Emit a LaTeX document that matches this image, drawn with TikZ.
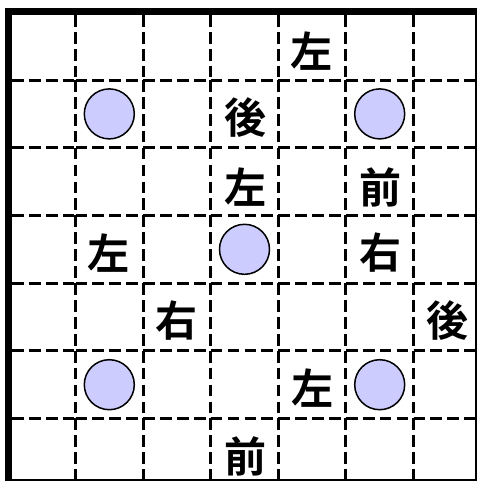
\documentclass[tikz,border=0pt]{standalone}
\usepackage{fontspec}
\newfontfamily\jpfont{Noto Sans CJK JP}[BoldFont={* Bold}]
\definecolor{disccol}{RGB}{204,204,255}
\tikzset{
  gridline/.style={line width=3pt, dash pattern=on 11.7pt off 5.2pt, line cap=butt},
  framebar/.style={fill=black, draw=none},
  disc/.style={circle, draw=black, line width=1.5pt, fill=disccol, minimum size=50pt, inner sep=0pt},
  glyph/.style={font=\jpfont\bfseries\fontsize{42}{42}\selectfont, inner sep=0pt}
}
\begin{document}
\begin{tikzpicture}[x=1pt,y=-1pt]
\useasboundingbox (0,0) rectangle (481,483);
\fill[white] (0,0) rectangle (481,483);
% frame
\fill[framebar] (5,8) rectangle (12,481);
\fill[framebar] (5,8) rectangle (477,15);
\fill[framebar] (475,8) rectangle (477,481);
\fill[framebar] (5,479) rectangle (477,481);
% dashed grid: vertical lines
\foreach \i in {1,...,6}{
  \foreach \r in {0,...,6}{
    \pgfmathsetmacro\xa{{12,75.5,143.1,210.7,278.3,345.9,413.5,476}[\i]}
    \pgfmathsetmacro\ya{{15,80,147.7,215.4,283.1,350.8,418.5,479}[\r]}
    \pgfmathsetmacro\yb{{15,80,147.7,215.4,283.1,350.8,418.5,479}[\r+1]}
    \draw[gridline] (\xa,\ya) -- (\xa,\yb);
  }
}
% horizontal lines
\foreach \i in {1,...,6}{
  \foreach \c in {0,...,6}{
    \pgfmathsetmacro\ya{{15,80,147.7,215.4,283.1,350.8,418.5,479}[\i]}
    \pgfmathsetmacro\xa{{12,75.5,143.1,210.7,278.3,345.9,413.5,475}[\c]}
    \pgfmathsetmacro\xb{{12,75.5,143.1,210.7,278.3,345.9,413.5,475}[\c+1]}
    \draw[gridline] (\xa,\ya) -- (\xb,\ya);
  }
}
% discs
\node[disc] (d1) at (109.3,113.9) {};
\node[disc] (d2) at (379.7,113.9) {};
\node[disc] (d3) at (244.5,249.3) {};
\node[disc] (d4) at (109.3,384.7) {};
\node[disc] (d5) at (379.7,384.7) {};
% characters
\node[glyph] (t1) at (311,51) {左};
\node[glyph] (t2) at (245,118) {後};
\node[glyph] (t3) at (245,187) {左};
\node[glyph] (t4) at (380,187) {前};
\node[glyph] (t5) at (109,253) {左};
\node[glyph] (t6) at (380,253) {右};
\node[glyph] (t7) at (176,321) {右};
\node[glyph] (t8) at (447,321) {後};
\node[glyph] (t9) at (312,388) {左};
\node[glyph] (t10) at (245,456) {前};
\end{tikzpicture}
\end{document}
